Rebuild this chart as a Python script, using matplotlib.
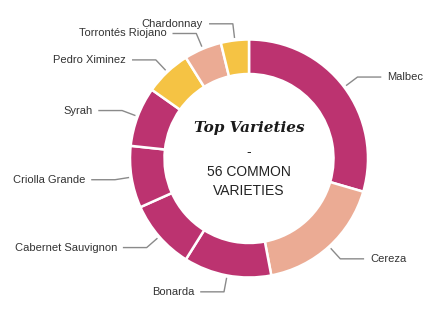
import matplotlib
matplotlib.use("Agg")
import matplotlib.pyplot as plt
import numpy as np

varieties = ["Malbec", "Cereza", "Bonarda", "Cabernet Sauvignon", "Criolla Grande",
             "Syrah", "Pedro Ximinez", "Torrontés Riojano", "Chardonnay"]
shares = [29.5, 17.5, 11.9, 9.4, 8.4, 8.1, 6.3, 5.1, 3.8]
MAG, SAL, YEL = "#BC3370", "#EBAB94", "#F5C344"
colors = [MAG, SAL, MAG, MAG, MAG, MAG, YEL, SAL, YEL]

W, H = 437, 332
cx, cy, R = 249, 158.5, 119.0
fig = plt.figure(figsize=(W / 100, H / 100), dpi=100)
ax = fig.add_axes([0, 0, 1, 1])
ax.axis("off")

wedges, _ = ax.pie(shares, colors=colors, startangle=90, counterclock=False, radius=1,
                   wedgeprops=dict(width=0.29, edgecolor="white", linewidth=1.8))
ax.set_xlim(-cx / R, (W - cx) / R)
ax.set_ylim(-(H - cy) / R, cy / R)
ax.set_aspect("auto")

for w, name in zip(wedges, varieties):
    ang = np.deg2rad((w.theta1 + w.theta2) / 2)
    ca, sa = np.cos(ang), np.sin(ang)
    x0, y0 = 1.02 * ca, 1.02 * sa
    x1, y1 = 1.14 * ca, 1.14 * sa
    s = 1 if ca >= 0 else -1
    x2 = x1 + s * 0.2
    ax.plot([x0, x1, x2], [y0, y1, y1], color="#8a8a8a", lw=1.0, solid_capstyle="butt")
    ax.text(x2 + s * 0.05, y1, name, ha="left" if s > 0 else "right", va="center",
            fontsize=8, family="Liberation Sans", color="#333333")

ax.text(0, 0.256, "Top Varieties", ha="center", va="center", fontsize=11,
        family="DejaVu Serif", fontweight="bold", fontstyle="italic", color="#1a1a1a")
ax.text(0, 0.057, "-", ha="center", va="center", fontsize=10,
        family="Liberation Sans", color="#222222")
ax.text(0, -0.111, "56 COMMON", ha="center", va="center", fontsize=10,
        family="Liberation Sans", color="#222222")
ax.text(0, -0.273, "VARIETIES", ha="center", va="center", fontsize=10,
        family="Liberation Sans", color="#222222")

fig.savefig("out.png", dpi=100)
